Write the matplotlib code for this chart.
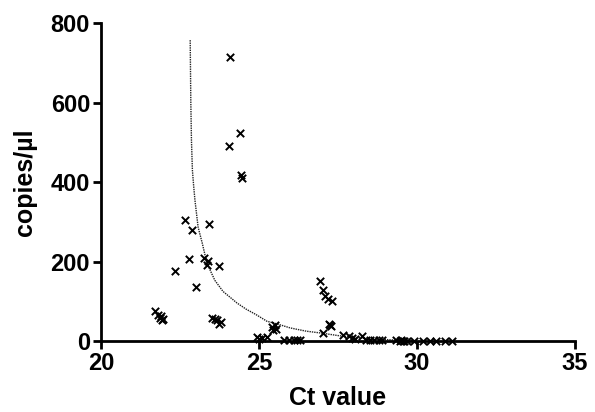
import matplotlib.pyplot as plt

# ── scatter data (Ct value vs copies/µl) ─────────────────────────────────────
ct = [24.08, 24.40, 24.05, 24.43, 24.46,
      22.66, 22.88, 23.42, 22.78, 22.34, 23.00, 23.26, 23.39, 23.35, 23.73,
      21.71, 21.80, 21.85, 21.92, 21.88, 21.95,
      23.50, 23.60, 23.67, 23.72, 23.78,
      25.40, 25.50, 25.55, 25.45,
      26.93, 27.03, 27.09, 27.18, 27.31,
      27.22, 27.28, 27.25, 27.03,
      24.95, 25.10, 25.25, 25.00,
      25.80, 25.95, 26.10, 26.20, 26.30,
      27.66, 27.85, 27.95, 28.26, 28.05,
      28.40, 28.50, 28.65, 28.80, 28.90,
      29.35, 29.45, 29.50, 29.55, 29.60, 29.70, 29.90,
      30.20, 30.40, 30.60, 30.90, 31.10]
copies = [714, 523, 490, 418, 410,
          304, 279, 294, 206, 176, 136, 209, 201, 191, 189,
          75, 65, 58, 52, 62, 55,
          58, 56, 52, 43, 48,
          35, 40, 30, 28,
          151, 128, 113, 106, 101,
          43, 38, 40, 20,
          10, 8, 10, 5,
          4, 3, 3, 2, 2,
          15, 12, 8, 12, 5,
          4, 3, 3, 2, 2,
          2, 1, 2, 1, 1, 1, 1,
          1, 1, 0.5, 0.5, 0.5]

# ── fitted curve ─────────────────────────────────────────────────────────────
fit_ct = [22.82, 22.84, 22.86, 22.89, 22.93, 22.97, 23.07, 23.20, 23.35, 23.60,
          23.86, 24.15, 24.30, 24.60, 24.90, 25.25, 25.50, 26.00, 26.50, 27.00,
          27.50, 28.00, 28.50, 29.00, 29.50, 30.00]
fit_copies = [757, 600, 505, 430, 390, 355, 287, 247, 196, 153,
              125, 106, 96, 80, 67, 50, 45, 33, 25, 20,
              14, 10, 6, 4, 2, 1]

x_ticks = [20, 25, 30, 35]
y_ticks = [0, 200, 400, 600, 800]

plt.rcParams["font.family"] = ["Liberation Sans", "DejaVu Sans"]
plt.rcParams["font.weight"] = "bold"

fig = plt.figure(figsize=(5.95, 4.12), dpi=100)
ax = fig.add_axes([0.170, 0.172, 0.796, 0.772])

ax.plot(fit_ct, fit_copies, color="#222222", linewidth=1.0,
        linestyle=(0, (1, 0.7)))
ax.scatter(ct, copies, marker="x", s=28, color="black", linewidths=1.4,
           zorder=3, clip_on=False)

ax.set_xlim(20, 35)
ax.set_ylim(0, 800)
ax.set_xticks(x_ticks)
ax.set_yticks(y_ticks)
ax.spines["top"].set_visible(False)
ax.spines["right"].set_visible(False)
for side in ("left", "bottom"):
    ax.spines[side].set_linewidth(2)
ax.tick_params(width=2, length=6, labelsize=17, pad=2)
for lbl in ax.get_xticklabels() + ax.get_yticklabels():
    lbl.set_fontweight("bold")

ax.set_xlabel("Ct value", fontsize=18, fontweight="bold", labelpad=8)
ax.set_ylabel("copies/µl", fontsize=18, fontweight="bold", labelpad=10)

fig.savefig("out.png", dpi=100)
